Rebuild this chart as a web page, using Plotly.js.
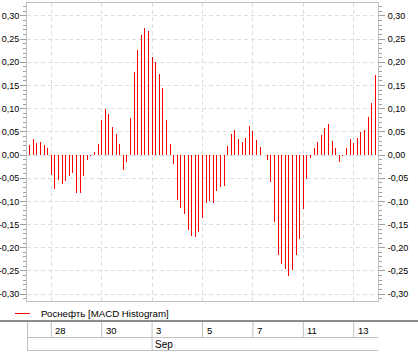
<!DOCTYPE html>
<html>
<head>
<meta charset="utf-8">
<script src="https://cdn.plot.ly/plotly-3.0.1.min.js"></script>
<style>html,body{margin:0;padding:0;background:#fff;}#chart{width:418px;height:356px;}</style>
</head>
<body>
<div id="chart"></div>
<script>
// Trading days shown (day-of-month labels) and the month row
const dayLabels = ["27","28","29","30","31","3","4","5","6","7","10","11","12","13"];
const labeledDays = [1, 3, 5, 7, 9, 11, 13];          // days carrying a tick label
const monthLabels = ["Sep"];
const monthStartDay = [5];
const seriesName = "Роснефть [MACD Histogram]";

// MACD histogram values, 7 bars per trading day (null = no bar)
const aug27 = [null, 0.022, 0.035, 0.026, 0.028, 0.022, 0.015];
const aug28 = [-0.043, -0.073, -0.054, -0.062, -0.055, -0.045, -0.039];
const aug29 = [-0.082, -0.082, -0.045, -0.011, -0.002, 0.0065, 0.024];
const aug30 = [0.0755, 0.099, 0.0885, 0.060, 0.045, 0.024, -0.032];
const aug31 = [-0.015, 0.080, 0.179, 0.227, 0.259, 0.274, 0.268];
const sep03 = [0.2115, 0.201, 0.175, 0.145, 0.0755, 0.024, -0.019];
const sep04 = [-0.097, -0.114, -0.127, -0.162, -0.175, -0.177, -0.166];
const sep05 = [-0.136, -0.104, -0.099, -0.104, -0.078, -0.069, -0.067];
const sep06 = [0.019, 0.045, 0.054, 0.035, 0.028, 0.037, 0.0625];
const sep07 = [0.052, 0.032, 0.017, 0.0, -0.011, -0.058, -0.145];
const sep10 = [-0.216, -0.235, -0.246, -0.261, -0.248, -0.216, -0.181];
const sep11 = [-0.117, -0.052, -0.0065, 0.015, 0.028, 0.043, 0.058];
const sep12 = [0.067, 0.030, 0.015, -0.015, -0.002, 0.015, 0.035];
const sep13 = [0.026, 0.037, 0.050, 0.054, 0.082, 0.112, 0.173];

// Y tick labels
const yTickVals = [-0.30, -0.25, -0.20, -0.15, -0.10, -0.05, 0.00, 0.05, 0.10, 0.15, 0.20, 0.25, 0.30];
const yTickText = ["-0,30","-0,25","-0,20","-0,15","-0,10","-0,05","0,00","0,05","0,10","0,15","0,20","0,25","0,30"];

const perDay = 7;
const days = [aug27, aug28, aug29, aug30, aug31, sep03, sep04, sep05, sep06, sep07, sep10, sep11, sep12, sep13];
const xs = [], ys = [];
days.forEach((vals, d) => vals.forEach((v, h) => { if (v !== null) { xs.push(d * perDay + h); ys.push(v); } }));
const tickIdx = labeledDays.map(d => d * perDay);

// layout geometry (pixels)
const W = 418, H = 356, L = 27, R = 40, T = 3, B = 55;
const plotH = H - T - B, plotW = W - L - R;
const py = p => (H - B - p) / plotH;   // pixel row -> paper y
const px = p => (p - L) / plotW;       // pixel column -> paper x

const xRange = [0.25, 97.75];
const yRange = [-0.315, 0.328];
const frame = '#c0c0c0';
const grid = '#dddddd';
const font = {family: 'Liberation Sans, Arial, sans-serif', size: 10, color: '#000'};
const tickFont = {family: 'Liberation Sans, Arial, sans-serif', size: 9, color: '#000'};

const shapes = [];
const annotations = [];
// separator line under legend
shapes.push({type:'line', xref:'paper', yref:'paper', x0:px(0), x1:px(W), y0:py(321), y1:py(321), line:{color:'#8c8c8c', width:2}});
// table horizontal lines
shapes.push({type:'line', xref:'paper', yref:'paper', x0:px(L), x1:px(W - R), y0:py(337.5), y1:py(337.5), line:{color:frame, width:1}});
shapes.push({type:'line', xref:'paper', yref:'paper', x0:px(L), x1:px(W - R), y0:py(350.5), y1:py(350.5), line:{color:frame, width:1}});
// table left border
shapes.push({type:'line', xref:'paper', yref:'paper', x0:px(L + 0.5), x1:px(L + 0.5), y0:py(322), y1:py(350.5), line:{color:frame, width:1}});
// day cells
tickIdx.forEach((xi, i) => {
  shapes.push({type:'line', xref:'x', yref:'paper', x0:xi, x1:xi, y0:py(322), y1:py(337.5), line:{color:frame, width:1}});
  annotations.push({x:xi, xref:'x', y:py(330), yref:'paper', text:dayLabels[labeledDays[i]], showarrow:false, xanchor:'left', yanchor:'middle', xshift:2, font:{family: font.family, size: 9.5, color: '#000'}});
});
// month cells
monthStartDay.forEach((d, i) => {
  const xi = d * perDay;
  shapes.push({type:'line', xref:'x', yref:'paper', x0:xi, x1:xi, y0:py(337.5), y1:py(350.5), line:{color:frame, width:1}});
  annotations.push({x:xi, xref:'x', y:py(344), yref:'paper', text:monthLabels[i], showarrow:false, xanchor:'left', yanchor:'middle', xshift:1, font:font});
});
// legend
shapes.push({type:'line', xref:'paper', yref:'paper', x0:px(15), x1:px(30), y0:py(313.5), y1:py(313.5), line:{color:'#ff0000', width:1}});
annotations.push({x:px(39), xref:'paper', y:py(313.5), yref:'paper', text:seriesName, showarrow:false, xanchor:'left', yanchor:'middle', font:{family: font.family, size: 9.7, color: '#000'}});

const yCommon = {
  range: yRange, tickvals: yTickVals, ticktext: yTickText,
  ticks: 'outside', ticklen: 6, tickcolor: '#a0a0a0', tickwidth: 1,
  minor: {tickmode: 'linear', tick0: 0, dtick: 0.01, ticks: 'outside', ticklen: 3, tickcolor: '#a0a0a0', showgrid: false},
  showline: true, linecolor: frame, linewidth: 1, zeroline: false,
  tickfont: tickFont, fixedrange: true
};

const data = [{
  type: 'bar', x: xs, y: ys, width: 0.32,
  marker: {color: '#ff0000', line: {width: 0}},
  hoverinfo: 'skip', showlegend: false
}, {
  // empty trace so the right-hand value axis is drawn
  type: 'scatter', x: [], y: [], yaxis: 'y2', hoverinfo: 'skip', showlegend: false
}];

const layout = {
  width: W, height: H,
  margin: {l: L, r: R, t: T, b: B, pad: 0},
  paper_bgcolor: '#fff', plot_bgcolor: '#fff',
  font: font, showlegend: false, bargap: 0,
  xaxis: {range: xRange, tickvals: tickIdx, showticklabels: false, ticks: '',
          showgrid: true, gridcolor: grid, griddash: '4px,3px', gridwidth: 1,
          showline: true, mirror: true, linecolor: frame, linewidth: 1, zeroline: false, fixedrange: true},
  yaxis: Object.assign({}, yCommon, {side: 'left', showgrid: true, gridcolor: grid, griddash: '4px,3px', gridwidth: 1, ticklabelstandoff: -1}),
  yaxis2: Object.assign({}, yCommon, {side: 'right', overlaying: 'y', anchor: 'x', showgrid: false, ticklabelstandoff: 1}),
  shapes: shapes, annotations: annotations
};

Plotly.newPlot('chart', data, layout, {staticPlot: true, displayModeBar: false});
</script>
</body>
</html>
